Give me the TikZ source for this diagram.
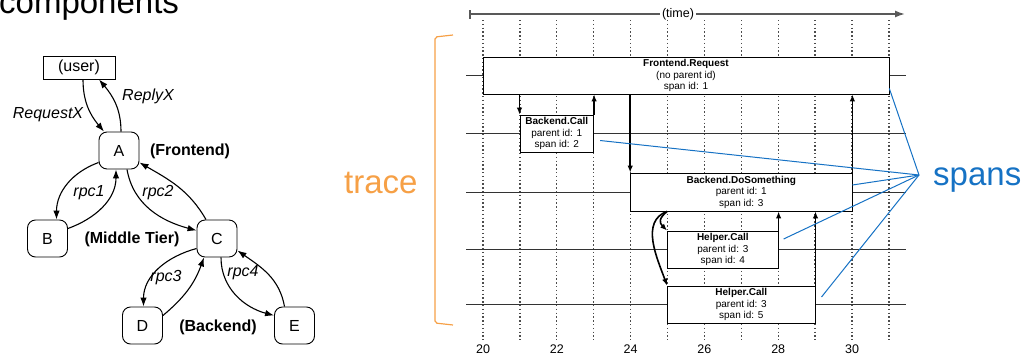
\documentclass[tikz,border=0pt]{standalone}
\usepackage{fontspec}
\setmainfont{Liberation Sans}
\usetikzlibrary{arrows.meta,positioning}
\definecolor{traceorange}{RGB}{246,160,70}
\definecolor{spanblue}{RGB}{22,114,196}

\begin{document}
\begin{tikzpicture}[
        x=1pt, y=1pt,
        >={Latex[length=9pt,width=6.5pt]},
        comp/.style={draw, line width=0.9pt, rounded corners=8pt, minimum width=40pt, minimum height=37pt, inner sep=0pt, font=\fontsize{16}{19}\selectfont},
        rpc/.style={->, line width=1.1pt},
        lbl/.style={inner sep=0pt, font=\fontsize{16}{19}\selectfont\itshape},
        tier/.style={inner sep=0pt, font=\fontsize{16}{19}\selectfont\bfseries},
        spanbox/.style={draw, fill=white, line width=0.8pt, minimum height=37pt, inner sep=0pt, align=center, font=\fontsize{10}{11.5}\selectfont},
        rowline/.style={black!80, line width=0.8pt},
        tickline/.style={black!70, line width=1.3pt, dash pattern=on 1.3pt off 2.5pt},
        call/.style={->, line width=1.6pt, >={Latex[length=7pt,width=5.5pt]}},
        pointer/.style={spanblue, line width=1pt}
    ]
    \useasboundingbox (0,0) rectangle (1031,-354);

    % --- components (left) ---
    \node[anchor=base west, inner sep=0pt, font=\fontsize{33}{36}\selectfont] (title) at (-1,-13) {components};

    \node[draw, line width=0.9pt, minimum width=72pt, minimum height=23pt, inner sep=0pt, font=\fontsize{16}{19}\selectfont] (user) at (79,-67.5) {(user)};
    \node[comp] (A) at (119,-150.5) {A};
    \node[comp] (B) at (47.5,-238.5) {B};
    \node[comp] (C) at (217,-238.5) {C};
    \node[comp] (D) at (142.5,-325.5) {D};
    \node[comp] (E) at (294.5,-325.5) {E};

    \node[tier] (front) at (190,-151) {(Frontend)};
    \node[tier] (middle) at (132,-239) {(Middle Tier)};
    \node[tier] (back) at (218,-327) {(Backend)};

    % calls and replies
    \draw[rpc] ([xshift=4pt]user.south) to[out=-90,in=130] ([xshift=-15pt]A.north);
    \draw[rpc] ([xshift=2pt]A.north) to[out=90,in=-50] ([xshift=20pt]user.south);
    \draw[rpc] ([yshift=-12pt]A.west) to[out=200,in=90] ([xshift=9pt]B.north);
    \draw[rpc] ([yshift=10pt]B.east) to[out=20,in=-90] ([xshift=-3pt]A.south);
    \draw[rpc] ([xshift=8pt]A.south) to[out=-80,in=165] ([yshift=8pt]C.west);
    \draw[rpc] ([xshift=-11pt]C.north) to[out=120,in=-30] ([yshift=-12pt]A.east);
    \draw[rpc] ([yshift=-10pt]C.west) to[out=195,in=90] ([xshift=1pt]D.north);
    \draw[rpc] ([yshift=10pt]D.east) to[out=40,in=-110] ([xshift=-13pt]C.south);
    \draw[rpc] ([xshift=4pt]C.south) to[out=-90,in=165] ([yshift=10pt]E.west);
    \draw[rpc] ([xshift=-10pt]E.north) to[out=100,in=-35] ([yshift=-12pt]C.east);

    \node[lbl] (req x) at (48,-115) {RequestX};
    \node[lbl] (rep x) at (148,-96) {ReplyX};
    \node[lbl] (rpc1) at (89,-193) {rpc1};
    \node[lbl] (rpc2) at (158,-193) {rpc2};
    \node[lbl] (rpc3) at (166,-278) {rpc3};
    \node[lbl] (rpc4) at (243,-273) {rpc4};

    % --- trace (right) ---
    \node[anchor=base west, inner sep=0pt, text=traceorange, font=\fontsize{33}{36}\selectfont] (trace) at (344,-193) {trace};
    \draw[traceorange, line width=1.2pt, rounded corners=2pt] (453,-35) -- (435,-37) -- (435,-323) -- (453,-325);

    % time axis
    \draw[black!65, line width=1.6pt, {Bar[width=9pt]}-{Latex[length=10pt,width=7pt]}] (469,-14) -- (905,-14);
    \node[fill=white, inner sep=2pt, font=\fontsize{12.5}{14}\selectfont] (time) at (678,-14) {(time)};

    \begin{scope}[xshift=-255pt, x=36.9pt]
        % time grid
        \foreach \t in {20,...,31}
            \draw[tickline] (\t,-20) -- (\t,-340);
        \foreach \t in {20,22,...,30}
            \node[anchor=base, inner sep=0pt, font=\fontsize{12.5}{14}\selectfont] (n\t) at (\t,-353) {\t};

        % rows
        \foreach \y in {75.5,133.5,192,249.5,304.5}
            \draw[rowline] (19.54,-\y) -- (31.46,-\y);

        % spans
        \node[spanbox, minimum width=405.9pt] (req) at (25.5,-75.5) {\textbf{Frontend.Request}\\(no parent id)\\span id: 1};
        \node[spanbox, minimum width=73.8pt] (bcall) at (22,-133.5) {\textbf{Backend.Call}\\parent id: 1\\span id: 2};
        \node[spanbox, minimum width=221.4pt, minimum height=38pt] (bdo) at (27,-192) {\textbf{Backend.DoSomething}\\parent id: 1\\span id: 3};
        \node[spanbox, minimum width=110.7pt] (help4) at (26.5,-249.5) {\textbf{Helper.Call}\\parent id: 3\\span id: 4};
        \node[spanbox, minimum width=147.6pt] (help5) at (27,-304.5) {\textbf{Helper.Call}\\parent id: 3\\span id: 5};

        % calls between spans
        \draw[call] (bcall.north west |- req.south) -- (bcall.north west);
        \draw[call] (bcall.north east) -- (bcall.north east |- req.south);
        \draw[call] (bdo.north west |- req.south) -- (bdo.north west);
        \draw[call] (bdo.north east) -- (bdo.north east |- req.south);
        \draw[call] (help4.north west |- bdo.south) to[out=220,in=135,looseness=1.5] (help4.north west);
        \draw[call] (help5.north west |- bdo.south) to[out=200,in=110] (help5.north west);
        \draw[call] (help4.north east) -- (help4.north east |- bdo.south);
        \draw[call] (help5.north east) -- (help5.north east |- bdo.south);
    \end{scope}

    % spans label
    \node[anchor=base west, inner sep=0pt, text=spanblue, font=\fontsize{33}{36}\selectfont] (spans) at (933,-185) {spans};
    \coordinate (fan) at (919,-175);
    \draw[pointer] (fan) -- ([yshift=6pt]req.south east);
    \draw[pointer] (fan) -- ([shift={(6pt,-7pt)}]bcall.east);
    \draw[pointer] (fan) -- ([yshift=7pt]bdo.east);
    \draw[pointer] (fan) -- ([shift={(5pt,10.5pt)}]help4.east);
    \draw[pointer] (fan) -- ([shift={(6pt,7.5pt)}]help5.east);
\end{tikzpicture}
\end{document}
